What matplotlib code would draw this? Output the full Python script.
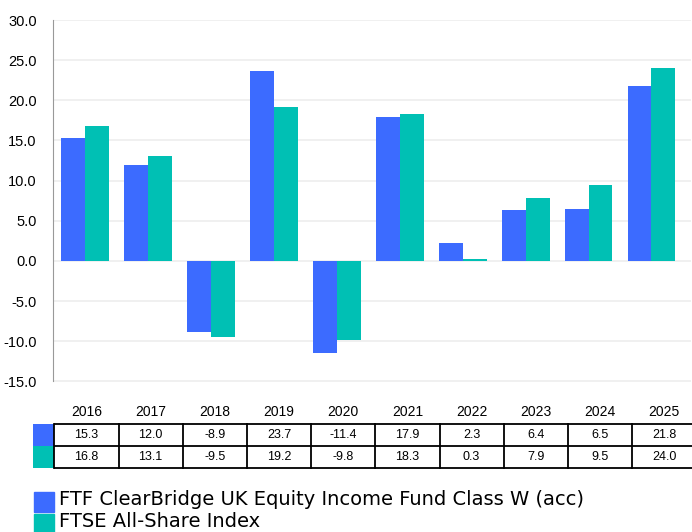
import matplotlib.pyplot as plt
import numpy as np

years = ["2016", "2017", "2018", "2019", "2020", "2021", "2022", "2023", "2024", "2025"]
fund = [15.3, 12.0, -8.9, 23.7, -11.4, 17.9, 2.3, 6.4, 6.5, 21.8]
index = [16.8, 13.1, -9.5, 19.2, -9.8, 18.3, 0.3, 7.9, 9.5, 24.0]
series_names = ["FTF ClearBridge UK Equity Income Fund Class W (acc)", "FTSE All-Share Index"]
colors = ["#3c6bff", "#00c0b4"]
yticks = np.arange(-15, 31, 5)

plt.rcParams["font.family"] = ["Liberation Sans", "DejaVu Sans"]

W, H = 692, 532
fig = plt.figure(figsize=(W / 100, H / 100), dpi=100)


def box(x0, y0, x1, y1):
    # pixel box (top-left origin) -> figure fraction rect
    return [x0 / W, 1 - y1 / H, (x1 - x0) / W, (y1 - y0) / H]


# chart: categories are ~62.9 px apart, first one starts right at the axis
cat_px = 62.9
ax_left, ax_right = 53.3, 691
ax = fig.add_axes(box(ax_left, 20, ax_right, 381.5))
x = np.arange(len(years))
bw = 0.38
ax.bar(x - bw / 2, fund, bw, color=colors[0], zorder=3)
ax.bar(x + bw / 2, index, bw, color=colors[1], zorder=3)
xmin = -0.5 - 0.6 / cat_px
ax.set_xlim(xmin, xmin + (ax_right - ax_left) / cat_px)
ax.set_ylim(-15, 30)
ax.set_yticks(yticks)
ax.set_yticklabels([f"{v:.1f}" for v in yticks], fontsize=10.5)
ax.set_xticks([])
ax.tick_params(axis="y", length=0, pad=12)
ax.grid(axis="y", color="#eeeeee", linewidth=1.2, zorder=0)
for s in ["top", "right", "bottom"]:
    ax.spines[s].set_visible(False)
ax.spines["left"].set_color("#999999")

# data table under the chart (columns 64.2 px wide from x=54.3)
col_px = 64.2
tab_left, tab_right = 33.3, 692
tab = fig.add_axes(box(tab_left, 398, tab_right, 469))
tmin = -0.5 - (54.3 - tab_left) / col_px
tab.set_xlim(tmin, tmin + (tab_right - tab_left) / col_px)
tab.set_ylim(71 / 22, 0)
tab.axis("off")
y_top = (424.3 - 398) / 22
rows = [fund, index]
for i, yr in enumerate(years):
    tab.text(i, y_top - 0.55, yr, ha="center", va="center", fontsize=10)
    for r, vals in enumerate(rows):
        tab.text(i, y_top + r + 0.5, f"{vals[i]:.1f}", ha="center", va="center", fontsize=9)
for r in range(2):
    tab.fill_between([tmin, -0.5], y_top + r, y_top + r + 1, color=colors[r], linewidth=0)
for yl in [0, 1, 2]:
    tab.plot([-0.5, len(years) - 0.5], [y_top + yl, y_top + yl], color="black",
             linewidth=1.3, solid_capstyle="butt")
for xl in np.arange(-0.5, len(years), 1.0):
    tab.plot([xl, xl], [y_top, y_top + 2], color="black", linewidth=1.3)

# legend
for r, name in enumerate(series_names):
    y0 = 492.3 + r * 22
    fig.patches.append(plt.Rectangle((34 / W, 1 - (y0 + 19.5) / H), 20.5 / W, 19.5 / H,
                                     transform=fig.transFigure, color=colors[r]))
    fig.text(59 / W, 1 - (y0 + 13) / H, name, ha="left", va="baseline",
             fontsize=14, family="DejaVu Sans")

fig.savefig("out.png", dpi=100)
